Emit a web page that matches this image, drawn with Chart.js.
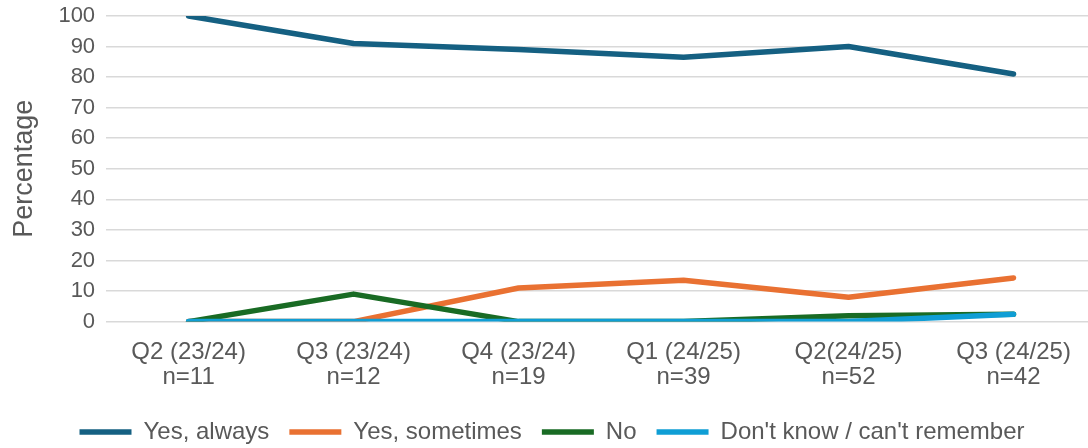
<!DOCTYPE html>
<html>
<head>
<meta charset="utf-8">
<script src="https://cdn.jsdelivr.net/npm/chart.js@4"></script>
<style>
  html, body { margin: 0; padding: 0; background: #fff; overflow: hidden; }
  .wrap { width: 1104px; height: 448px; }
</style>
</head>
<body>
<div class="wrap"><canvas id="myChart"></canvas></div>
<script>
const quarters = [
  ["Q2 (23/24)", "n=11"],
  ["Q3 (23/24)", "n=12"],
  ["Q4 (23/24)", "n=19"],
  ["Q1 (24/25)", "n=39"],
  ["Q2(24/25)", "n=52"],
  ["Q3 (24/25)", "n=42"],
];
const yesAlways = [100, 91, 89, 86.5, 90, 81];
const yesSometimes = [0, 0, 11, 13.5, 8, 14.3];
const no = [0, 9, 0, 0, 1.9, 2.4];
const dontKnow = [0, 0, 0, 0, 0, 2.4];
const yTicks = [0, 10, 20, 30, 40, 50, 60, 70, 80, 90, 100];

const textColor = "#595959";
const font = "Liberation Sans, Arial, sans-serif";
const ctx = document.getElementById("myChart");

// later series sit on top, like in the original
function series(label, data, color, order) {
  return {
    label: label,
    data: data,
    order: order,
    borderColor: color,
    backgroundColor: color,
    borderWidth: 5.5,
    borderCapStyle: "round",
    borderJoinStyle: "round",
    pointRadius: 0,
    tension: 0,
    fill: false,
  };
}

new Chart(ctx, {
  type: "line",
  data: {
    labels: quarters,
    datasets: [
      series("Yes, always", yesAlways, "#156082", 4),
      series("Yes, sometimes", yesSometimes, "#E97132", 3),
      series("No", no, "#196B24", 2),
      series("Don't know / can't remember", dontKnow, "#0F9ED5", 1),
    ],
  },
  options: {
    responsive: true,
    maintainAspectRatio: false,
    animation: false,
    layout: { padding: { top: 16, right: 8, left: 8, bottom: -6 } },
    plugins: {
      tooltip: { enabled: false },
      legend: {
        position: "bottom",
        labels: {
          color: textColor,
          font: { family: font, size: 24 },
          usePointStyle: true,
          pointStyle: "line",
          pointStyleWidth: 52,
          boxHeight: 24,
          padding: 20,
          sort: (a, b) => a.datasetIndex - b.datasetIndex,
        },
      },
    },
    scales: {
      x: {
        offset: true,
        grid: { display: false },
        border: { display: false },
        ticks: {
          color: textColor,
          font: { family: font, size: 24, lineHeight: 1.05 },
          maxRotation: 0,
          padding: 10,
        },
      },
      y: {
        min: 0,
        max: 100,
        afterBuildTicks: (axis) => {
          axis.ticks = yTicks.map((v) => ({ value: v }));
        },
        grid: {
          color: "#d9d9d9",
          lineWidth: 1.5,
          drawTicks: true,
          tickLength: 11,
          tickColor: "rgba(0,0,0,0)",
        },
        border: { display: false },
        ticks: {
          color: textColor,
          font: { family: font, size: 22 },
          padding: 0,
        },
        title: {
          display: true,
          text: "Percentage",
          color: textColor,
          font: { family: font, size: 27 },
          padding: { top: 0, bottom: 18 },
        },
      },
    },
  },
});
</script>
</body>
</html>
